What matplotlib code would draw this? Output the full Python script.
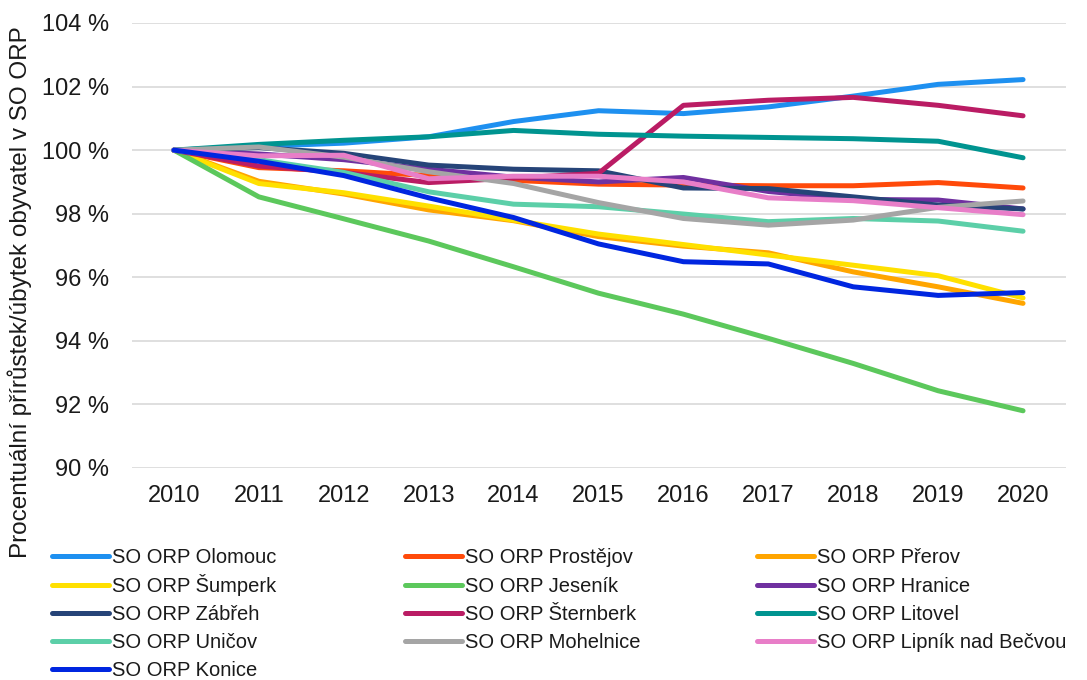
import matplotlib.pyplot as plt
from matplotlib.ticker import FuncFormatter

plt.rcParams['font.family'] = ['Liberation Sans', 'DejaVu Sans']

# Data
years = [2010, 2011, 2012, 2013, 2014, 2015, 2016, 2017, 2018, 2019, 2020]

olomouc = [100, 100.12, 100.22, 100.42, 100.9, 101.24, 101.15, 101.36, 101.7, 102.07, 102.22]
prostejov = [100, 99.45, 99.35, 99.2, 99.05, 98.93, 98.9, 98.88, 98.88, 98.98, 98.81]
prerov = [100, 99.02, 98.62, 98.12, 97.78, 97.28, 96.98, 96.77, 96.17, 95.7, 95.18]
sumperk = [100, 98.95, 98.66, 98.24, 97.8, 97.36, 97.03, 96.7, 96.38, 96.05, 95.35]
jesenik = [100, 98.53, 97.84, 97.14, 96.33, 95.5, 94.84, 94.08, 93.29, 92.43, 91.8]
hranice = [100, 99.88, 99.7, 99.4, 99.15, 99.0, 99.14, 98.7, 98.45, 98.43, 98.15]
zabreh = [100, 100.08, 99.9, 99.53, 99.4, 99.35, 98.81, 98.79, 98.53, 98.27, 98.15]
sternberk = [100, 99.5, 99.3, 98.98, 99.12, 99.27, 101.41, 101.57, 101.66, 101.41, 101.08]
litovel = [100, 100.18, 100.31, 100.42, 100.62, 100.5, 100.44, 100.4, 100.36, 100.28, 99.76]
unicov = [100, 99.7, 99.3, 98.69, 98.3, 98.22, 97.99, 97.75, 97.85, 97.77, 97.45]
mohelnice = [100, 100.1, 99.78, 99.32, 98.95, 98.35, 97.85, 97.64, 97.8, 98.2, 98.4]
lipnik = [100, 99.82, 99.84, 99.1, 99.18, 99.18, 99.0, 98.5, 98.41, 98.19, 97.97]
konice = [100, 99.65, 99.2, 98.5, 97.88, 97.05, 96.49, 96.42, 95.7, 95.43, 95.52]

names = ['SO ORP Olomouc', 'SO ORP Prostějov', 'SO ORP Přerov', 'SO ORP Šumperk',
         'SO ORP Jeseník', 'SO ORP Hranice', 'SO ORP Zábřeh', 'SO ORP Šternberk',
         'SO ORP Litovel', 'SO ORP Uničov', 'SO ORP Mohelnice',
         'SO ORP Lipník nad Bečvou', 'SO ORP Konice']
series = [olomouc, prostejov, prerov, sumperk, jesenik, hranice, zabreh,
          sternberk, litovel, unicov, mohelnice, lipnik, konice]
colors = ['#1E90F0', '#FF4A0A', '#FFA500', '#FFE000', '#5CC85C', '#7030A0',
          '#264478', '#BA1C64', '#009490', '#5CCFA8', '#A5A5A5', '#E87EC8', '#0026E0']

fig = plt.figure(figsize=(10.87, 6.8), dpi=100)
ax = fig.add_axes([131.5 / 1087, 1 - 468 / 680, 934 / 1087, 445 / 680])

handles = []
for vals, name, c in zip(series, names, colors):
    h, = ax.plot(years, vals, color=c, lw=3.6, label=name,
                 solid_capstyle='round', solid_joinstyle='round')
    handles.append(h)

ax.set_xlim(2009.5, 2020.5)
ax.set_ylim(90, 104)
ax.set_xticks(years)
ax.set_yticks(range(90, 105, 2))
ax.yaxis.set_major_formatter(FuncFormatter(lambda v, p: f'{v:.0f} %'))
ax.tick_params(axis='both', length=0, labelsize=17, colors='#1a1a1a')
ax.tick_params(axis='y', pad=16)
ax.tick_params(axis='x', pad=12)
ax.grid(axis='y', color='#d9d9d9', lw=1.2)
ax.set_axisbelow(True)
for s in ax.spines.values():
    s.set_visible(False)

fig.text(20 / 1087, 1 - 292 / 680, 'Procentuální přírůstek/úbytek obyvatel v SO ORP',
         rotation=90, ha='center', va='center', fontsize=17.5, color='#1a1a1a')

# legend laid out row by row, 3 entries per row (one small legend per entry)
col_x = [52, 405, 757]
row_y = [567, 596, 624, 652, 680]   # bottom of each legend row, px from top
for i, h in enumerate(handles):
    r, c = divmod(i, 3)
    leg = fig.legend([h], [names[i]], loc='lower left',
                     bbox_to_anchor=(col_x[c] / 1087, 1 - row_y[r] / 680),
                     frameon=False, fontsize=14.5, handlelength=2.85,
                     handletextpad=0.12, borderpad=0, borderaxespad=0)
    for t in leg.get_texts():
        t.set_color('#1a1a1a')

fig.savefig('out.png', dpi=100)
